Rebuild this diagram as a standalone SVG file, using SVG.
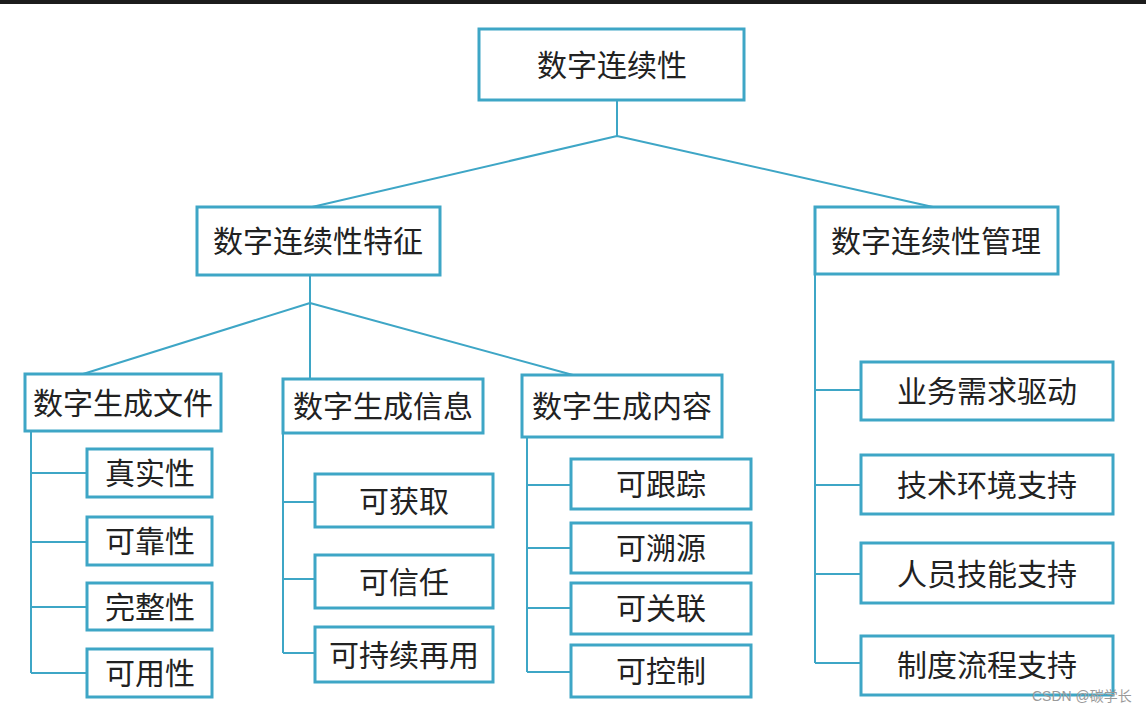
<svg xmlns="http://www.w3.org/2000/svg" width="1146" height="707" viewBox="0 0 1146 707">
<style>
.box{fill:#fff;stroke:#3ea6c6;stroke-width:3}
.t{font-family:"Noto Sans CJK SC","Liberation Sans",sans-serif;font-size:30px;fill:#222;text-anchor:middle}
.c{fill:none;stroke:#3ea6c6;stroke-width:2}
</style>
<rect x="0" y="0" width="1146" height="707" fill="#fff"/>
<rect x="0" y="0" width="1146" height="4" fill="#1c1c1c"/>
<g id="connectors">
<path class="c" d="M617,100 V136 M617,136 L312,207 M617,136 L933,207"/>
<path class="c" d="M310,275 V383 M310,303 L83,374 M310,303 L573,375"/>
<path class="c" d="M31,431 V673 M31,473 H87 M31,542 H87 M31,607 H87 M31,673 H87"/>
<path class="c" d="M283,433 V653 M283,502 H315 M283,579 H315 M283,653 H315"/>
<path class="c" d="M527,437 V672 M527,485 H571 M527,548 H571 M527,608 H571 M527,672 H571"/>
<path class="c" d="M815,274 V663 M815,390 H861 M815,485 H861 M815,574 H861 M815,663 H861"/>
</g>
<g id="root"><rect class="box" x="479" y="29" width="265" height="71"/><text class="t" x="612" y="76">数字连续性</text></g>
<g id="features"><rect class="box" x="197" y="207" width="243" height="68"/><text class="t" x="318" y="252">数字连续性特征</text></g>
<g id="management"><rect class="box" x="815" y="207" width="243" height="67"/><text class="t" x="936" y="252">数字连续性管理</text></g>
<g id="files"><rect class="box" x="25" y="374" width="196" height="57"/><text class="t" x="123" y="414">数字生成文件</text></g>
<g id="info"><rect class="box" x="283" y="379" width="200" height="54"/><text class="t" x="383" y="417">数字生成信息</text></g>
<g id="content"><rect class="box" x="522" y="375" width="200" height="62"/><text class="t" x="622" y="417">数字生成内容</text></g>
<g id="f1"><rect class="box" x="87" y="449" width="125" height="48"/><text class="t" x="150" y="484">真实性</text></g>
<g id="f2"><rect class="box" x="87" y="517" width="125" height="48"/><text class="t" x="150" y="552">可靠性</text></g>
<g id="f3"><rect class="box" x="87" y="583" width="125" height="47"/><text class="t" x="150" y="618">完整性</text></g>
<g id="f4"><rect class="box" x="87" y="649" width="125" height="48"/><text class="t" x="150" y="684">可用性</text></g>
<g id="i1"><rect class="box" x="315" y="474" width="178" height="53"/><text class="t" x="404" y="512">可获取</text></g>
<g id="i2"><rect class="box" x="315" y="555" width="178" height="53"/><text class="t" x="404" y="593">可信任</text></g>
<g id="i3"><rect class="box" x="315" y="627" width="178" height="55"/><text class="t" x="404" y="666">可持续再用</text></g>
<g id="c1"><rect class="box" x="571" y="459" width="180" height="50"/><text class="t" x="661" y="495">可跟踪</text></g>
<g id="c2"><rect class="box" x="571" y="523" width="180" height="50"/><text class="t" x="661" y="559">可溯源</text></g>
<g id="c3"><rect class="box" x="571" y="583" width="180" height="51"/><text class="t" x="661" y="619">可关联</text></g>
<g id="c4"><rect class="box" x="571" y="645" width="180" height="52"/><text class="t" x="661" y="682">可控制</text></g>
<g id="m1"><rect class="box" x="861" y="362" width="252" height="58"/><text class="t" x="987" y="402">业务需求驱动</text></g>
<g id="m2"><rect class="box" x="861" y="455" width="252" height="59"/><text class="t" x="987" y="496">技术环境支持</text></g>
<g id="m3"><rect class="box" x="861" y="543" width="252" height="60"/><text class="t" x="987" y="585">人员技能支持</text></g>
<g id="m4"><rect class="box" x="861" y="636" width="252" height="59"/><text class="t" x="987" y="676">制度流程支持</text></g>
<text x="1032" y="701" font-family="'Liberation Sans','Noto Sans CJK SC',sans-serif" font-size="14" fill="#9a9a9a">CSDN @碳学长</text>
</svg>
